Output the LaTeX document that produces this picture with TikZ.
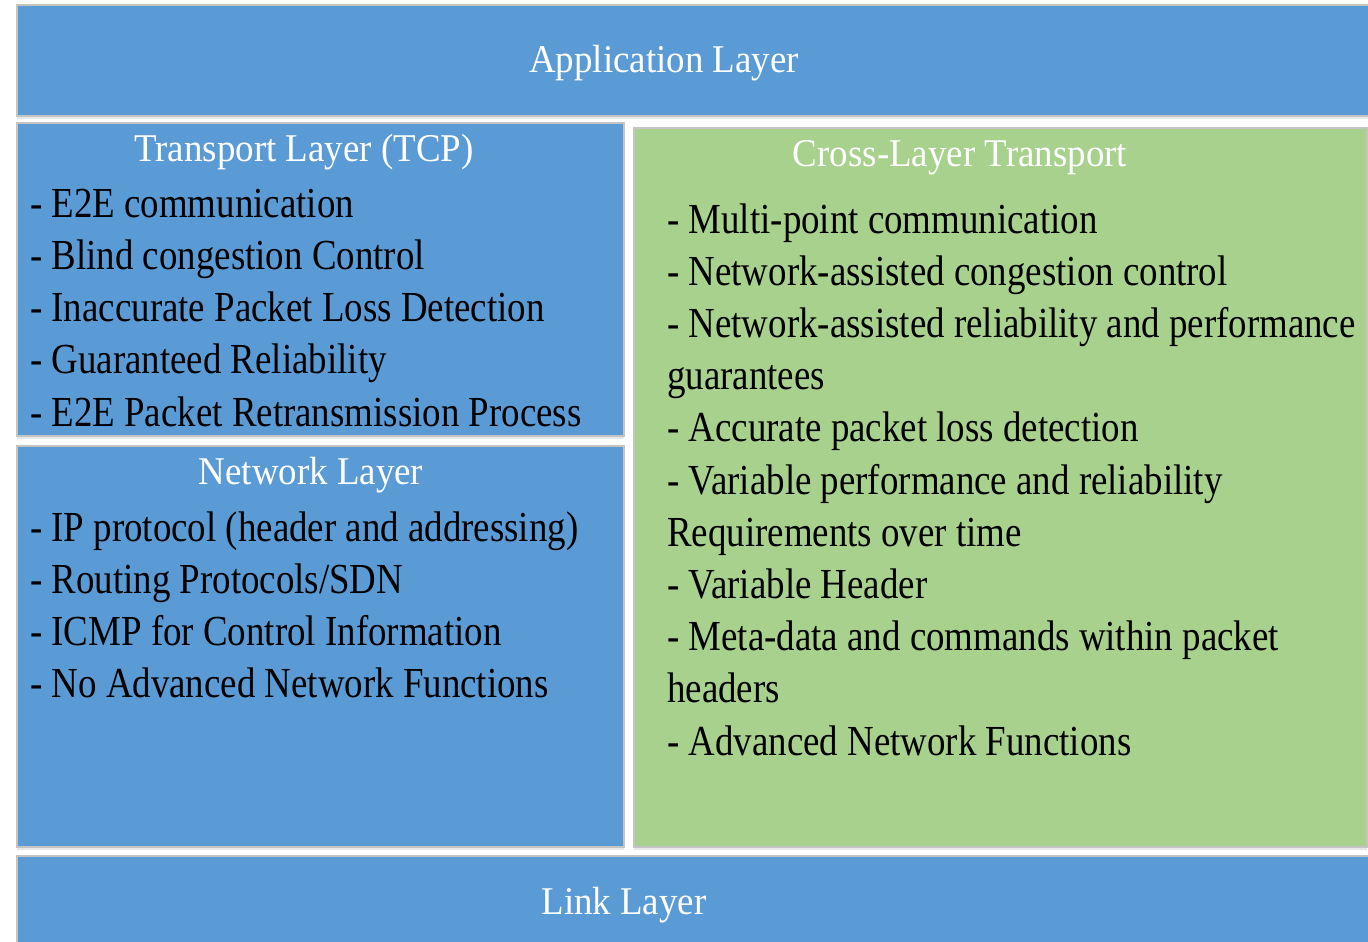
\documentclass[tikz,border=0pt]{standalone}
\usepackage{fontspec}
\setmainfont{Liberation Serif}[FakeStretch=0.862]
\newfontfamily\titlefont{Liberation Serif}[FakeStretch=0.94]
\usetikzlibrary{fit,shadows}
\definecolor{layerblue}{HTML}{5B9BD5}
\definecolor{layergreen}{HTML}{A9D18E}
\definecolor{edgegray}{HTML}{C4C4C4}
\tikzset{
  layerbox/.style={draw=edgegray, line width=1.2pt, inner sep=0pt,
    drop shadow={shadow xshift=0pt, shadow yshift=-3pt, opacity=0.18, fill=gray}},
  bluebox/.style={layerbox, fill=layerblue},
  greenbox/.style={layerbox, fill=layergreen},
  titletext/.style={inner sep=0pt, anchor=base, text=white,
    font=\titlefont\fontsize{39.3}{47}\selectfont},
  itemtext/.style={inner sep=0pt, anchor=base west, text=black,
    font=\fontsize{42.8}{52}\selectfont}
}
\begin{document}
\begin{tikzpicture}[x=1pt,y=-1pt]
\useasboundingbox (0,0) rectangle (1368,942);
\fill[white] (0,0) rectangle (1368,942);
\begin{scope}
\clip (0,0) rectangle (1368,942);
% boxes
\node[bluebox, fit={(17,5)(1390,116)}] (app) {};
\node[bluebox, fit={(17,123)(624,436)}] (transport) {};
\node[bluebox, fit={(17,446)(624,847)}] (network) {};
\node[greenbox, fit={(634,128)(1367,847)}] (cross) {};
\node[bluebox, fit={(17,856)(1390,960)}] (link) {};
% titles
\node[titletext] (appT) at (664,73) {Application Layer};
\node[titletext] (transT) at (304,161) {Transport Layer (TCP)};
\node[titletext] (netT) at (311,484) {Network Layer};
\node[titletext] (crossT) at (960,166) {Cross-Layer Transport};
\node[titletext] (linkT) at (624,914) {Link Layer};
% transport items
\foreach \t [count=\i] in {{- E2E communication},{- Blind congestion Control},{- Inaccurate Packet Loss Detection},{- Guaranteed Reliability},{- E2E Packet Retransmission Process}}
  \node[itemtext] (tr\i) at (30,{217+52.3*(\i-1)}) {\t};
% network items
\foreach \t [count=\i] in {{- IP protocol (header and addressing)},{- Routing Protocols/SDN},{- ICMP for Control Information},{- No Advanced Network Functions}}
  \node[itemtext] (nw\i) at (30,{541+52.3*(\i-1)}) {\t};
% cross-layer items
\foreach \t [count=\i] in {{- Multi-point communication},{- Network-assisted congestion control},{- Network-assisted reliability and performance},{guarantees},{- Accurate packet loss detection},{- Variable performance and reliability},{Requirements over time},{- Variable Header},{- Meta-data and commands within packet},{headers},{- Advanced Network Functions}}
  \node[itemtext] (cl\i) at (667,{233+52.2*(\i-1)}) {\t};
\end{scope}
\end{tikzpicture}
\end{document}
